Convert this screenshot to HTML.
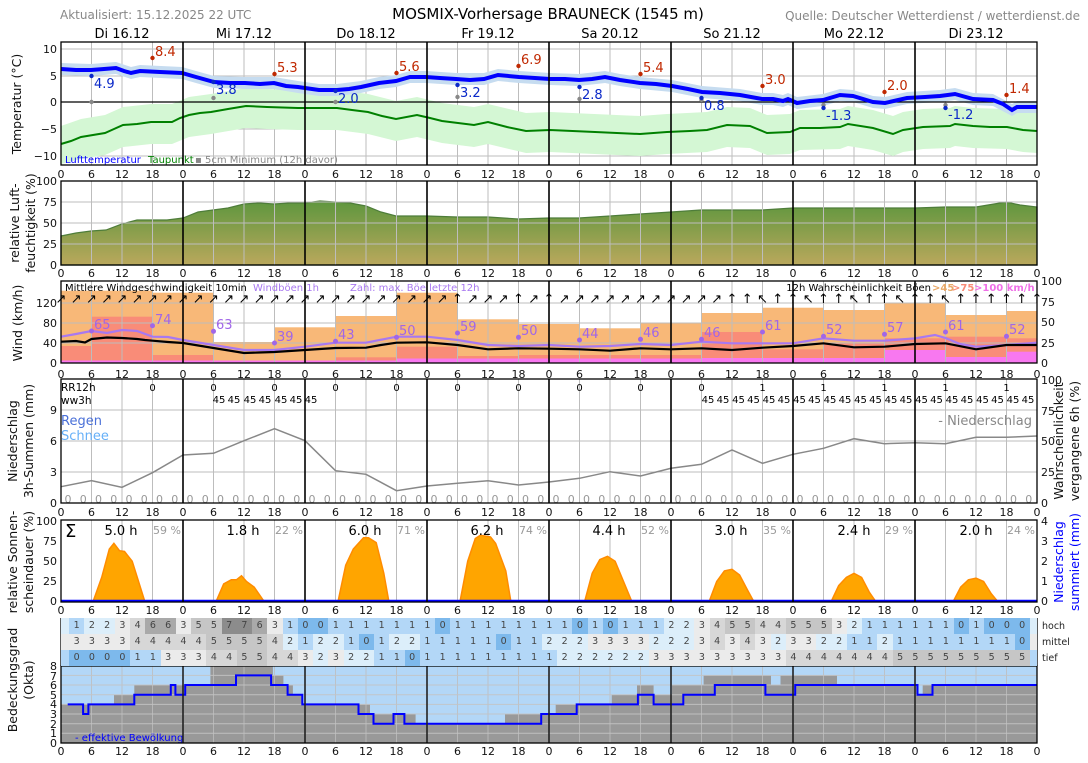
<!DOCTYPE html>
<html><head><meta charset="utf-8"><style>
body{margin:0;background:#fff;width:1088px;height:763px;overflow:hidden;position:relative;font-family:"DejaVu Sans","Liberation Sans",sans-serif}
svg{position:absolute;left:0;top:0}
svg text{font-family:"DejaVu Sans","Liberation Sans",sans-serif}
.tk{font-size:11px;fill:#111;text-anchor:middle}
.yl{font-size:11px;fill:#111;text-anchor:end}
.yr{font-size:11px;fill:#111;text-anchor:start}
.al{font-size:12.5px;fill:#111;text-anchor:middle}
.row{position:absolute;left:61px;width:968px;height:16px;padding-left:8px;display:flex;font-size:9.5px;line-height:16px;color:#444;background:#dceefa}
.row i{font-style:normal;display:block;width:15.25px;flex:none;text-align:center}
.c0{background:#7db9ec}.c1{background:#b3d7f7}.c2{background:#dceefa}.c3{background:#ebebeb}.c4{background:#d7d7d7}.c5{background:#c6c6c6}.c6{background:#a9a9a9}.c7{background:#8c8c8c}
</style></head><body>
<svg width="1088" height="763" viewBox="0 0 1088 763">
<defs>
<pattern id="vg" x="60.5" y="0" width="30.5" height="800" patternUnits="userSpaceOnUse"><line x1="0.5" y1="0" x2="0.5" y2="800" stroke="#bdbdbd" stroke-width="1"/></pattern>
<linearGradient id="hg" x1="0" y1="0" x2="0" y2="1"><stop offset="0" stop-color="#5e963e"/><stop offset="1" stop-color="#baa85c"/></linearGradient>
</defs>
<text x="60" y="19" font-size="12" fill="#888">Aktualisiert: 15.12.2025 22 UTC</text>
<text x="548" y="19" font-size="15" fill="#000" text-anchor="middle">MOSMIX-Vorhersage BRAUNECK (1545 m)</text>
<text x="1080" y="20" font-size="12" fill="#888" text-anchor="end">Quelle: Deutscher Wetterdienst / wetterdienst.de</text>
<g font-size="13" text-anchor="middle" fill="#000">
<text x="122" y="38">Di 16.12</text><text x="244" y="38">Mi 17.12</text><text x="366" y="38">Do 18.12</text><text x="488" y="38">Fr 19.12</text><text x="610" y="38">Sa 20.12</text><text x="732" y="38">So 21.12</text><text x="854" y="38">Mo 22.12</text><text x="976" y="38">Di 23.12</text>
</g>

<rect x="61" y="42" width="976" height="123" fill="url(#vg)"/>
<g stroke="#bdbdbd" stroke-width="1"><line x1="61" y1="49" x2="1037" y2="49"/><line x1="61" y1="76" x2="1037" y2="76"/><line x1="61" y1="129" x2="1037" y2="129"/><line x1="61" y1="156" x2="1037" y2="156"/></g>
<polygon fill="#d4f7d4" points="61,126 81,119 105,115 123,107 151,104 172,104 189,97 211,94 246,88 267,89 298,90 337,90 368,94 396,101 417,97 442,103 474,107 488,104 526,113 550,112 640,116 667,114 707,112 727,107 750,108 767,115 790,114 800,110 840,109 848,106 873,110 893,116 903,112 923,109 950,108 955,106 973,108 1007,109 1023,112 1037,113 1037,153 1023,152 1007,149 973,148 955,146 950,148 923,149 903,152 893,156 873,150 848,146 840,149 800,150 790,154 767,155 750,148 727,147 707,152 667,154 640,156 550,152 526,153 488,144 474,147 442,143 417,137 396,141 368,134 337,130 298,130 267,129 246,128 211,134 189,137 172,144 151,144 123,147 105,155 81,159 61,164"/>
<polygon fill="#c6dcf0" points="61,63 91,64 116,62 131,67 140,65 182,67 196,71 214,76 245,77 274,77 298,81 319,84 337,84 361,81 379,77 396,75 410,71 426,71 456,73 484,73 498,69 519,71 550,73 579,74 605,71 620,74 640,77 672,80 702,86 740,89 762,93 773,93 783,95 788,93 797,97 823,94 840,89 853,90 873,96 885,97 907,92 940,90 955,88 973,93 993,94 1012,104 1017,101 1037,101 1037,113 1017,113 1012,116 993,106 973,105 955,100 940,102 907,104 885,109 873,108 853,102 840,101 823,106 797,109 788,105 783,107 773,105 762,105 740,101 702,98 672,92 640,89 620,86 605,83 579,86 550,85 519,83 498,81 484,85 456,85 426,83 410,83 396,87 379,89 361,93 337,96 319,96 298,93 274,89 245,89 214,88 196,83 182,79 140,77 131,79 116,74 91,76 61,75"/>
<line x1="61" y1="102" x2="1037" y2="102" stroke="#000" stroke-width="1.3"/>
<polyline fill="none" stroke="#008000" stroke-width="2" points="61,144 71,141 81,137 93,135 105,133 114,129 123,125 137,124 151,122 172,122 180,118 189,115 200,113 211,112 228,109 246,106 267,107 298,108 337,108 352,110 368,112 382,116 396,119 417,115 430,118 442,121 458,123 474,125 488,122 507,127 526,131 550,130 595,132 640,134 667,132 690,131 707,130 727,125 750,126 767,133 790,132 800,128 820,128 840,127 848,124 873,128 893,134 903,130 923,127 950,126 955,124 973,126 990,127 1007,127 1023,130 1037,131"/>
<polyline fill="none" stroke="#0000ff" stroke-width="4" points="61,69 76,70 91,70 104,69 116,68 124,71 131,73 140,71 160,72 182,73 196,77 214,82 230,83 245,83 260,84 274,83 286,86 298,87 319,90 337,90 349,89 361,87 379,83 396,81 410,77 426,77 440,78 456,79 470,80 484,79 498,75 519,77 535,78 550,79 565,79 579,80 592,79 605,77 620,80 640,83 656,84 672,86 688,89 702,92 720,93 740,95 762,99 773,99 783,101 788,99 797,103 810,101 823,100 840,95 853,96 873,102 885,103 907,98 925,97 940,96 955,94 973,99 993,100 1003,104 1012,110 1017,107 1037,107"/>
<g fill="#888"><circle cx="91.5" cy="102" r="2.2"/><circle cx="213.5" cy="98" r="2.2"/><circle cx="335.5" cy="102" r="2.2"/><circle cx="457.5" cy="97" r="2.2"/><circle cx="579.5" cy="99" r="2.2"/><circle cx="701.5" cy="100" r="2.2"/><circle cx="823.5" cy="105" r="2.2"/><circle cx="945.5" cy="105" r="2.2"/></g>
<g fill="#0a28c8"><circle cx="91.5" cy="76" r="2.2"/><circle cx="213.5" cy="82" r="2.2"/><circle cx="335.5" cy="91" r="2.2"/><circle cx="457.5" cy="85" r="2.2"/><circle cx="579.5" cy="87" r="2.2"/><circle cx="701.5" cy="98" r="2.2"/><circle cx="823.5" cy="108" r="2.2"/><circle cx="945.5" cy="108" r="2.2"/></g>
<g fill="#0a28c8" font-size="13"><text x="94" y="88">4.9</text><text x="216" y="94">3.8</text><text x="338" y="103">2.0</text><text x="460" y="97">3.2</text><text x="582" y="99">2.8</text><text x="704" y="110">0.8</text><text x="826" y="120">-1.3</text><text x="948" y="119">-1.2</text></g>
<g fill="#c02800"><circle cx="152.5" cy="58" r="2.2"/><circle cx="274.5" cy="74" r="2.2"/><circle cx="396.5" cy="73" r="2.2"/><circle cx="518.5" cy="66" r="2.2"/><circle cx="640.5" cy="74" r="2.2"/><circle cx="762.5" cy="86" r="2.2"/><circle cx="884.5" cy="92" r="2.2"/><circle cx="1006.5" cy="95" r="2.2"/></g>
<g fill="#c02800" font-size="13"><text x="155" y="56">8.4</text><text x="277" y="72">5.3</text><text x="399" y="71">5.6</text><text x="521" y="64">6.9</text><text x="643" y="72">5.4</text><text x="765" y="84">3.0</text><text x="887" y="90">2.0</text><text x="1009" y="93">1.4</text></g>
<text x="65" y="163" font-size="10" fill="#0000ff">Lufttemperatur</text>
<text x="148" y="163" font-size="10" fill="#008000">Taupunkt</text>
<text x="195" y="163" font-size="10" fill="#888">▪ 5cm Minimum (12h davor)</text>
<g stroke="#000" stroke-width="1.6"><line x1="183" y1="42" x2="183" y2="165"/><line x1="305" y1="42" x2="305" y2="165"/><line x1="427" y1="42" x2="427" y2="165"/><line x1="549" y1="42" x2="549" y2="165"/><line x1="671" y1="42" x2="671" y2="165"/><line x1="793" y1="42" x2="793" y2="165"/><line x1="915" y1="42" x2="915" y2="165"/></g>
<rect x="61" y="42" width="976" height="123" fill="none" stroke="#000" stroke-width="1.3"/>
<text class="yl" x="57" y="53">10</text><text class="yl" x="57" y="80">5</text><text class="yl" x="57" y="106">0</text><text class="yl" x="57" y="133">−5</text><text class="yl" x="57" y="160">−10</text>
<text class="al" transform="translate(21,104) rotate(-90)">Temperatur (°C)</text>
<text class="tk" y="178"><tspan x="61">0</tspan><tspan x="91.5">6</tspan><tspan x="122">12</tspan><tspan x="152.5">18</tspan><tspan x="183">0</tspan><tspan x="213.5">6</tspan><tspan x="244">12</tspan><tspan x="274.5">18</tspan><tspan x="305">0</tspan><tspan x="335.5">6</tspan><tspan x="366">12</tspan><tspan x="396.5">18</tspan><tspan x="427">0</tspan><tspan x="457.5">6</tspan><tspan x="488">12</tspan><tspan x="518.5">18</tspan><tspan x="549">0</tspan><tspan x="579.5">6</tspan><tspan x="610">12</tspan><tspan x="640.5">18</tspan><tspan x="671">0</tspan><tspan x="701.5">6</tspan><tspan x="732">12</tspan><tspan x="762.5">18</tspan><tspan x="793">0</tspan><tspan x="823.5">6</tspan><tspan x="854">12</tspan><tspan x="884.5">18</tspan><tspan x="915">0</tspan><tspan x="945.5">6</tspan><tspan x="976">12</tspan><tspan x="1006.5">18</tspan><tspan x="1037">0</tspan></text>

<polygon fill="url(#hg)" stroke="#4e7d3a" stroke-width="1.2" points="61,236 76,233 91,231 106,230 122,224 137,220 152,220 167,220 183,218 198,212 213,210 228,208 244,204 259,203 274,204 290,203 305,203 320,201 335,202 350,203 366,206 381,212 396,216 427,216 457,217 488,217 518,219 549,218 579,218 610,216 640,214 671,212 701,210 732,210 762,210 793,208 823,208 854,208 884,208 915,208 945,207 976,207 1006,202 1020,205 1037,207 1037,265 61,265"/>
<rect x="61" y="181" width="976" height="84" fill="url(#vg)"/>
<g stroke="#bdbdbd"><line x1="61" y1="202" x2="1037" y2="202"/><line x1="61" y1="223" x2="1037" y2="223"/><line x1="61" y1="244" x2="1037" y2="244"/></g>
<g stroke="#000" stroke-width="1.6"><line x1="183" y1="181" x2="183" y2="265"/><line x1="305" y1="181" x2="305" y2="265"/><line x1="427" y1="181" x2="427" y2="265"/><line x1="549" y1="181" x2="549" y2="265"/><line x1="671" y1="181" x2="671" y2="265"/><line x1="793" y1="181" x2="793" y2="265"/><line x1="915" y1="181" x2="915" y2="265"/></g>
<rect x="61" y="181" width="976" height="84" fill="none" stroke="#000" stroke-width="1.3"/>
<text class="yl" x="57" y="185">100</text><text class="yl" x="57" y="206">75</text><text class="yl" x="57" y="227">50</text><text class="yl" x="57" y="248">25</text><text class="yl" x="57" y="269">0</text>
<text class="al" transform="translate(19,223) rotate(-90)">relative Luft-</text>
<text class="al" transform="translate(35,223) rotate(-90)">feuchtigkeit (%)</text>
<text class="tk" y="277"><tspan x="61">0</tspan><tspan x="91.5">6</tspan><tspan x="122">12</tspan><tspan x="152.5">18</tspan><tspan x="183">0</tspan><tspan x="213.5">6</tspan><tspan x="244">12</tspan><tspan x="274.5">18</tspan><tspan x="305">0</tspan><tspan x="335.5">6</tspan><tspan x="366">12</tspan><tspan x="396.5">18</tspan><tspan x="427">0</tspan><tspan x="457.5">6</tspan><tspan x="488">12</tspan><tspan x="518.5">18</tspan><tspan x="549">0</tspan><tspan x="579.5">6</tspan><tspan x="610">12</tspan><tspan x="640.5">18</tspan><tspan x="671">0</tspan><tspan x="701.5">6</tspan><tspan x="732">12</tspan><tspan x="762.5">18</tspan><tspan x="793">0</tspan><tspan x="823.5">6</tspan><tspan x="854">12</tspan><tspan x="884.5">18</tspan><tspan x="915">0</tspan><tspan x="945.5">6</tspan><tspan x="976">12</tspan><tspan x="1006.5">18</tspan><tspan x="1037">0</tspan></text>

<g fill="#f8b878">
<rect x="61" y="290.7" width="91.5" height="72.3"/><rect x="152.5" y="292.7" width="61" height="70.3"/><rect x="213.5" y="342" width="61" height="21"/><rect x="274.5" y="327.3" width="61" height="35.7"/><rect x="335.5" y="316" width="61" height="47"/><rect x="396.5" y="292.7" width="61" height="70.3"/><rect x="457.5" y="319.3" width="61" height="43.7"/><rect x="518.5" y="324" width="61" height="39"/><rect x="579.5" y="328.3" width="61" height="34.7"/><rect x="640.5" y="323.3" width="61" height="39.7"/><rect x="701.5" y="313" width="61" height="50"/><rect x="762.5" y="307.7" width="61" height="55.3"/><rect x="823.5" y="310" width="61" height="53"/><rect x="884.5" y="302.7" width="61" height="60.3"/><rect x="945.5" y="315" width="61" height="48"/><rect x="1006.5" y="311" width="30.5" height="52"/>
</g>
<g fill="#f98c78">
<rect x="61" y="346" width="30.5" height="17"/><rect x="91.5" y="316.7" width="61" height="46.3"/><rect x="152.5" y="355" width="61" height="8"/><rect x="213.5" y="360.5" width="122" height="2.5"/><rect x="335.5" y="357.3" width="61" height="5.7"/><rect x="396.5" y="346.7" width="61" height="16.3"/><rect x="457.5" y="356" width="61" height="7"/><rect x="518.5" y="355" width="183" height="8"/><rect x="701.5" y="332" width="61" height="31"/><rect x="762.5" y="349.3" width="61" height="13.7"/><rect x="823.5" y="342.7" width="61" height="20.3"/><rect x="884.5" y="338.3" width="61" height="24.7"/><rect x="945.5" y="336.7" width="61" height="26.3"/><rect x="1006.5" y="338.3" width="30.5" height="24.7"/>
</g>
<g fill="#f878f0">
<rect x="61" y="360.5" width="335.5" height="2.5"/><rect x="396.5" y="358.5" width="305" height="4.5"/><rect x="701.5" y="358" width="183" height="5"/><rect x="884.5" y="350" width="61" height="13"/><rect x="945.5" y="357" width="61" height="6"/><rect x="1006.5" y="351.7" width="30.5" height="11.3"/>
</g>
<rect x="61" y="281" width="976" height="82" fill="url(#vg)"/>
<g stroke="#bdbdbd"><line x1="61" y1="303" x2="1037" y2="303"/><line x1="61" y1="323" x2="1037" y2="323"/><line x1="61" y1="343" x2="1037" y2="343"/></g>
<polyline fill="none" stroke="#a878f0" stroke-width="2.2" points="61,336.7 76,334 91.5,331 107,333 122,330 137,331 152.5,336.7 168,337 183,340 213.5,345 244,350 274.5,350 305,346.7 335.5,342.7 366,342.7 396.5,336.7 427,336.7 457.5,340 488,345 518.5,346 549,345 579.5,346.7 610,346 640.5,344 671,345 701.5,341.7 732,343.3 762.5,343.3 793,343.3 823.5,338.3 854,340.7 884.5,340.7 915,338.3 935,335 945.5,338 960,344 976,346.7 1006.5,345 1037,342.7"/>
<polyline fill="none" stroke="#000" stroke-width="2.2" points="61,341.7 76,341 85,342.5 91.5,339 107,337.5 122,338 137,339 145,340 152.5,340.7 168,342 183,343 213.5,348 244,353 259,352.5 274.5,352 305,350 320,349 335.5,348 366,347.7 381,345 396.5,342.7 427,342.3 457.5,345 488,349.3 518.5,348.3 549,348.7 579.5,349.3 610,350.7 640.5,348.3 671,349.3 701.5,348.3 732,350 762.5,347.7 793,346 823.5,343.3 854,347.3 884.5,346.7 915,344 945.5,343.3 976,349.3 1006.5,345 1037,345"/>
<g fill="#a066e8"><circle cx="91.5" cy="331" r="2.5"/><circle cx="152.5" cy="325.7" r="2.5"/><circle cx="213.5" cy="331.3" r="2.5"/><circle cx="274.5" cy="343" r="2.5"/><circle cx="335.5" cy="341.3" r="2.5"/><circle cx="396.5" cy="337.3" r="2.5"/><circle cx="457.5" cy="333" r="2.5"/><circle cx="518.5" cy="337.3" r="2.5"/><circle cx="579.5" cy="340" r="2.5"/><circle cx="640.5" cy="339.3" r="2.5"/><circle cx="701.5" cy="339.3" r="2.5"/><circle cx="762.5" cy="332" r="2.5"/><circle cx="823.5" cy="336.3" r="2.5"/><circle cx="884.5" cy="334.3" r="2.5"/><circle cx="945.5" cy="332" r="2.5"/><circle cx="1006.5" cy="336.3" r="2.5"/></g>
<g fill="#a066e8" font-size="13"><text x="94" y="329">65</text><text x="155" y="324">74</text><text x="216" y="329">63</text><text x="277" y="341">39</text><text x="338" y="339">43</text><text x="399" y="335">50</text><text x="460" y="331">59</text><text x="521" y="335">50</text><text x="582" y="338">44</text><text x="643" y="337">46</text><text x="704" y="337">46</text><text x="765" y="330">61</text><text x="826" y="334">52</text><text x="887" y="332">57</text><text x="948" y="330">61</text><text x="1009" y="334">52</text></g>
<text font-size="13" fill="#000" text-anchor="middle" y="303" x="61 76.25 91.5 106.75 122 137.25 152.5 167.75 183 198.25 213.5 228.75 244 259.25 274.5 289.75 305 320.25 335.5 350.75 366 381.25 396.5 411.75 427 442.25 457.5 472.75 488 503.25 518.5 533.75 549 564.25 579.5 594.75 610 625.25 640.5 655.75 671 686.25 701.5 716.75 732 747.25 762.5 777.75 793 808.25 823.5 838.75 854 869.25 884.5 899.75 915 930.25 945.5 960.75 976 991.25 1006.5 1021.75 1037">↗↗↗↗↗↗↗↗↗↗↗↗↗↗↗↗↗↗↗↗↗↗↗↗↗↗↑↗↗↗↑↗↑↗↗↗↗↗↗↗↗↗↗↗↑↑↖↑↑↖↑↑↖↑↑↖↑↑↖↑↑↑↑↑↑</text>
<g font-size="10"><text x="65" y="291" fill="#000">Mittlere Windgeschwindigkeit 10min</text><text x="253" y="291" fill="#a878f0">Windböen 1h</text><text x="350" y="291" fill="#a878f0">Zahl: max. Böe letzte 12h</text>
<text x="931" y="291" fill="#000" text-anchor="end">12h Wahrscheinlichkeit Böen</text><text x="932" y="291" fill="#e8a868" font-weight="bold">&gt;45</text><text x="952" y="291" fill="#f98c78" font-weight="bold">&gt;75</text><text x="974" y="291" fill="#f070e8" font-weight="bold">&gt;100 km/h</text></g>
<g stroke="#000" stroke-width="1.6"><line x1="183" y1="281" x2="183" y2="363"/><line x1="305" y1="281" x2="305" y2="363"/><line x1="427" y1="281" x2="427" y2="363"/><line x1="549" y1="281" x2="549" y2="363"/><line x1="671" y1="281" x2="671" y2="363"/><line x1="793" y1="281" x2="793" y2="363"/><line x1="915" y1="281" x2="915" y2="363"/></g>
<rect x="61" y="281" width="976" height="82" fill="none" stroke="#000" stroke-width="1.3"/>
<text class="yl" x="57" y="307">120</text><text class="yl" x="57" y="327">80</text><text class="yl" x="57" y="347">40</text><text class="yl" x="57" y="367">0</text>
<text class="yr" x="1041" y="285">100</text><text class="yr" x="1041" y="306">75</text><text class="yr" x="1041" y="326">50</text><text class="yr" x="1041" y="347">25</text><text class="yr" x="1041" y="367">0</text>
<text class="al" transform="translate(22,323) rotate(-90)">Wind (km/h)</text>
<text class="tk" y="378"><tspan x="61">0</tspan><tspan x="91.5">6</tspan><tspan x="122">12</tspan><tspan x="152.5">18</tspan><tspan x="183">0</tspan><tspan x="213.5">6</tspan><tspan x="244">12</tspan><tspan x="274.5">18</tspan><tspan x="305">0</tspan><tspan x="335.5">6</tspan><tspan x="366">12</tspan><tspan x="396.5">18</tspan><tspan x="427">0</tspan><tspan x="457.5">6</tspan><tspan x="488">12</tspan><tspan x="518.5">18</tspan><tspan x="549">0</tspan><tspan x="579.5">6</tspan><tspan x="610">12</tspan><tspan x="640.5">18</tspan><tspan x="671">0</tspan><tspan x="701.5">6</tspan><tspan x="732">12</tspan><tspan x="762.5">18</tspan><tspan x="793">0</tspan><tspan x="823.5">6</tspan><tspan x="854">12</tspan><tspan x="884.5">18</tspan><tspan x="915">0</tspan><tspan x="945.5">6</tspan><tspan x="976">12</tspan><tspan x="1006.5">18</tspan><tspan x="1037">0</tspan></text>

<rect x="61" y="379" width="976" height="124" fill="url(#vg)"/>
<g stroke="#bdbdbd"><line x1="61" y1="410" x2="1037" y2="410"/><line x1="61" y1="441" x2="1037" y2="441"/><line x1="61" y1="472" x2="1037" y2="472"/></g>
<polyline fill="none" stroke="#888" stroke-width="1.5" points="61,486.7 91.5,480.7 122,487.3 152.5,472.7 183,455 213.5,453.3 244,440.7 274.5,428.7 305,440.7 335.5,470.7 366,474.3 396.5,490.7 427,486 457.5,483.3 488,480.7 518.5,485 549,482 579.5,478.3 610,471.7 640.5,476 671,468.3 701.5,464.3 732,450 762.5,463.3 793,454.3 823.5,448.3 854,438.7 884.5,443.7 915,442.7 945.5,443.7 976,437.3 1006.5,437.3 1037,436"/>
<text x="61" y="391" font-size="10.5" fill="#000">RR12h</text><text x="61" y="404" font-size="10.5" fill="#000">ww3h</text>
<g font-size="10" fill="#000" text-anchor="middle"><text x="152.5" y="391">0</text><text x="213.5" y="391">0</text><text x="274.5" y="391">0</text><text x="335.5" y="391">0</text><text x="396.5" y="391">0</text><text x="457.5" y="391">0</text><text x="518.5" y="391">0</text><text x="579.5" y="391">0</text><text x="640.5" y="391">0</text><text x="701.5" y="391">0</text><text x="762.5" y="391">1</text><text x="823.5" y="391">1</text><text x="884.5" y="391">1</text><text x="945.5" y="391">1</text><text x="1006.5" y="391">1</text></g>
<text font-size="10" fill="#000" text-anchor="middle" y="403"><tspan x="219">45</tspan><tspan x="234">45</tspan><tspan x="250">45</tspan><tspan x="265">45</tspan><tspan x="281">45</tspan><tspan x="296">45</tspan><tspan x="311">45</tspan><tspan x="708">45</tspan><tspan x="723">45</tspan><tspan x="738.5">45</tspan><tspan x="753.5">45</tspan><tspan x="769">45</tspan><tspan x="784">45</tspan><tspan x="799.5">45</tspan><tspan x="814.5">45</tspan><tspan x="830">45</tspan><tspan x="845">45</tspan><tspan x="860.5">45</tspan><tspan x="875.5">45</tspan><tspan x="891">45</tspan><tspan x="906">45</tspan><tspan x="921.5">45</tspan><tspan x="936.5">45</tspan><tspan x="952">45</tspan><tspan x="967">45</tspan><tspan x="982.5">45</tspan><tspan x="997.5">45</tspan><tspan x="1013">45</tspan><tspan x="1028">45</tspan></text>
<text x="61" y="425" font-size="13" fill="#4a70d8">Regen</text>
<text x="61" y="440" font-size="13" fill="#66b0f8">Schnee</text>
<text x="1032" y="425" font-size="13" fill="#888" text-anchor="end">- Niederschlag</text>
<text font-size="11" fill="#999" text-anchor="middle" y="503" x="68 83.25 98.5 113.75 129 144.25 159.5 174.75 190 205.25 220.5 235.75 251 266.25 281.5 296.75 312 327.25 342.5 357.75 373 388.25 403.5 418.75 434 449.25 464.5 479.75 495 510.25 525.5 540.75 556 571.25 586.5 601.75 617 632.25 647.5 662.75 678 693.25 708.5 723.75 739 754.25 769.5 784.75 800 815.25 830.5 845.75 861 876.25 891.5 906.75 922 937.25 952.5 967.75 983 998.25 1013.5 1028.75">0000000000000000000000000000000000000000000000000000000000000000</text>
<g stroke="#000" stroke-width="1.6"><line x1="183" y1="379" x2="183" y2="503"/><line x1="305" y1="379" x2="305" y2="503"/><line x1="427" y1="379" x2="427" y2="503"/><line x1="549" y1="379" x2="549" y2="503"/><line x1="671" y1="379" x2="671" y2="503"/><line x1="793" y1="379" x2="793" y2="503"/><line x1="915" y1="379" x2="915" y2="503"/></g>
<rect x="61" y="379" width="976" height="124" fill="none" stroke="#000" stroke-width="1.3"/>
<text class="yl" x="57" y="414">9</text><text class="yl" x="57" y="445">6</text><text class="yl" x="57" y="476">3</text><text class="yl" x="57" y="507">0</text>
<text class="yr" x="1041" y="384">100</text><text class="yr" x="1041" y="415">75</text><text class="yr" x="1041" y="445">50</text><text class="yr" x="1041" y="476">25</text><text class="yr" x="1041" y="507">0</text>
<text class="al" transform="translate(17,441) rotate(-90)">Niederschlag</text>
<text class="al" transform="translate(33,441) rotate(-90)">3h-Summen (mm)</text>
<text class="al" transform="translate(1063,441) rotate(-90)">Wahrscheinlichkeit</text>
<text class="al" transform="translate(1079,441) rotate(-90)">vergangene 6h (%)</text>
<text class="tk" y="516"><tspan x="61">0</tspan><tspan x="91.5">6</tspan><tspan x="122">12</tspan><tspan x="152.5">18</tspan><tspan x="183">0</tspan><tspan x="213.5">6</tspan><tspan x="244">12</tspan><tspan x="274.5">18</tspan><tspan x="305">0</tspan><tspan x="335.5">6</tspan><tspan x="366">12</tspan><tspan x="396.5">18</tspan><tspan x="427">0</tspan><tspan x="457.5">6</tspan><tspan x="488">12</tspan><tspan x="518.5">18</tspan><tspan x="549">0</tspan><tspan x="579.5">6</tspan><tspan x="610">12</tspan><tspan x="640.5">18</tspan><tspan x="671">0</tspan><tspan x="701.5">6</tspan><tspan x="732">12</tspan><tspan x="762.5">18</tspan><tspan x="793">0</tspan><tspan x="823.5">6</tspan><tspan x="854">12</tspan><tspan x="884.5">18</tspan><tspan x="915">0</tspan><tspan x="945.5">6</tspan><tspan x="976">12</tspan><tspan x="1006.5">18</tspan><tspan x="1037">0</tspan></text>

<rect x="61" y="520" width="976" height="82" fill="url(#vg)"/>
<g fill="#ffa500" stroke="#ff8c00" stroke-width="1.5">
<polygon points="93,601.7 101.7,577.4 109.3,549.1 113.9,543.4 119.5,550.7 124.5,551.5 132.2,561.2 139.8,585.5 144.9,601.7"/>
<polygon points="216,601.7 223.7,583.9 231.3,579.8 236.4,579.8 241.5,575.8 246.5,581.5 254.2,587.1 264.3,601.7"/>
<polygon points="338,601.7 345.7,565.2 353.3,549.1 363.5,537.7 368.5,537.7 376.2,542.6 383.8,573.3 388.9,601.7"/>
<polygon points="460,601.7 467.7,561.2 475.3,538.5 480.4,535.3 490.5,536.9 495.6,543.4 505.8,570.9 510.9,601.7"/>
<polygon points="584.6,601.7 592.2,573.3 599.8,559.6 607.5,556.3 615.1,561.2 625.2,585.5 631.9,601.7"/>
<polygon points="709.1,601.7 716.7,581.5 724.4,570.9 732,569.3 739.6,575 747.2,589.5 753.9,601.7"/>
<polygon points="831.1,601.7 838.7,585.5 846.4,577.4 854,573.3 861.6,577.4 869.2,592 875.9,601.7"/>
<polygon points="953.1,601.7 960.7,587.1 968.4,579.8 976,578.2 983.6,581.5 991.2,593.6 997.9,601.7"/>
</g>
<line x1="61" y1="601" x2="1037" y2="601" stroke="#0000ff" stroke-width="2.5"/>
<text x="65" y="537" font-size="18" fill="#000">Σ</text>
<g font-size="13" fill="#000" text-anchor="middle"><text x="121" y="535">5.0 h</text><text x="243" y="535">1.8 h</text><text x="365" y="535">6.0 h</text><text x="487" y="535">6.2 h</text><text x="609" y="535">4.4 h</text><text x="731" y="535">3.0 h</text><text x="854" y="535">2.4 h</text><text x="976" y="535">2.0 h</text></g>
<g font-size="11" fill="#999" text-anchor="middle"><text x="167" y="534">59 %</text><text x="289" y="534">22 %</text><text x="411" y="534">71 %</text><text x="533" y="534">74 %</text><text x="655" y="534">52 %</text><text x="777" y="534">35 %</text><text x="899" y="534">29 %</text><text x="1021" y="534">24 %</text></g>
<g stroke="#000" stroke-width="1.6"><line x1="183" y1="520" x2="183" y2="602"/><line x1="305" y1="520" x2="305" y2="602"/><line x1="427" y1="520" x2="427" y2="602"/><line x1="549" y1="520" x2="549" y2="602"/><line x1="671" y1="520" x2="671" y2="602"/><line x1="793" y1="520" x2="793" y2="602"/><line x1="915" y1="520" x2="915" y2="602"/></g>
<rect x="61" y="520" width="976" height="82" fill="none" stroke="#000" stroke-width="1.3"/>
<text class="yl" x="57" y="525">100</text><text class="yl" x="57" y="545">75</text><text class="yl" x="57" y="565">50</text><text class="yl" x="57" y="585">25</text><text class="yl" x="57" y="605">0</text>
<text class="yr" x="1041" y="525">4</text><text class="yr" x="1041" y="545">3</text><text class="yr" x="1041" y="565">2</text><text class="yr" x="1041" y="585">1</text><text class="yr" x="1041" y="605">0</text>
<text class="al" transform="translate(17,562) rotate(-90)">relative Sonnen-</text>
<text class="al" transform="translate(33,562) rotate(-90)">scheindauer (%)</text>
<text class="al" style="fill:#0000ff" transform="translate(1063,562) rotate(-90)">Niederschlag</text>
<text class="al" style="fill:#0000ff" transform="translate(1079,562) rotate(-90)">summiert (mm)</text>
<text class="tk" y="614"><tspan x="61">0</tspan><tspan x="91.5">6</tspan><tspan x="122">12</tspan><tspan x="152.5">18</tspan><tspan x="183">0</tspan><tspan x="213.5">6</tspan><tspan x="244">12</tspan><tspan x="274.5">18</tspan><tspan x="305">0</tspan><tspan x="335.5">6</tspan><tspan x="366">12</tspan><tspan x="396.5">18</tspan><tspan x="427">0</tspan><tspan x="457.5">6</tspan><tspan x="488">12</tspan><tspan x="518.5">18</tspan><tspan x="549">0</tspan><tspan x="579.5">6</tspan><tspan x="610">12</tspan><tspan x="640.5">18</tspan><tspan x="671">0</tspan><tspan x="701.5">6</tspan><tspan x="732">12</tspan><tspan x="762.5">18</tspan><tspan x="793">0</tspan><tspan x="823.5">6</tspan><tspan x="854">12</tspan><tspan x="884.5">18</tspan><tspan x="915">0</tspan><tspan x="945.5">6</tspan><tspan x="976">12</tspan><tspan x="1006.5">18</tspan><tspan x="1037">0</tspan></text>

<rect x="61" y="666" width="976" height="77" fill="#b3d7f7"/>
<path fill="#999" d="M61,743 L61,704.4 H114 V694.7 H134.3 V685 H210.4 V665.7 H272.9 V675.4 H283.4 V685 H292.9 V694.7 H302.3 V704.4 H370 V714 H415.6 V723.7 H505 V714 H555.7 V704.4 H611.7 V694.7 H637 V685 H653.6 V694.7 H672 V685 H703.6 V675.4 H771 V685 H780.5 V675.4 H837 V685 H917.5 V694.7 H922.7 V685 H1037 V743 Z"/>
<rect x="61" y="666" width="976" height="77" fill="url(#vg)" opacity="0.8"/>
<g stroke="#c4c4c4" stroke-width="1" opacity="0.9"><line x1="61" y1="675.4" x2="1037" y2="675.4"/><line x1="61" y1="685" x2="1037" y2="685"/><line x1="61" y1="694.7" x2="1037" y2="694.7"/><line x1="61" y1="704.4" x2="1037" y2="704.4"/><line x1="61" y1="714" x2="1037" y2="714"/><line x1="61" y1="723.7" x2="1037" y2="723.7"/><line x1="61" y1="733.3" x2="1037" y2="733.3"/></g>
<path fill="none" stroke="#0000ff" stroke-width="2" d="M67.7,704.4 H83.1 V714 H88.4 V704.4 H134.3 V694.7 H170.8 V685 H175.4 V694.7 H185.2 V685 H236 V675.4 H271.1 V685 H287.6 V694.7 H302.3 V704.4 H358.5 V714 H373.5 V723.7 H393.5 V714 H404.4 V723.7 H541.2 V714 H576.7 V704.4 H637.9 V694.7 H653.6 V704.4 H683.3 V694.7 H714.8 V685 H765.4 V694.7 H795.2 V685 H917.5 V694.7 H932.5 V685 H1037"/>
<text x="75" y="741" font-size="10" fill="#0000ff">- effektive Bewölkung</text>
<g stroke="#222" stroke-width="1.6"><line x1="183" y1="666" x2="183" y2="743"/><line x1="305" y1="666" x2="305" y2="743"/><line x1="427" y1="666" x2="427" y2="743"/><line x1="549" y1="666" x2="549" y2="743"/><line x1="671" y1="666" x2="671" y2="743"/><line x1="793" y1="666" x2="793" y2="743"/><line x1="915" y1="666" x2="915" y2="743"/></g>
<rect x="61" y="666" width="976" height="77" fill="none" stroke="#000" stroke-width="1.3"/>
<line x1="61" y1="618" x2="61" y2="666" stroke="#000" stroke-width="1.3"/><line x1="1037" y1="618" x2="1037" y2="666" stroke="#000" stroke-width="1.3"/>
<g font-size="11" fill="#111" text-anchor="end"><text x="57" y="670">8</text><text x="57" y="680">7</text><text x="57" y="689">6</text><text x="57" y="699">5</text><text x="57" y="708">4</text><text x="57" y="718">3</text><text x="57" y="728">2</text><text x="57" y="737">1</text><text x="57" y="747">0</text></g>
<g font-size="9.5" fill="#222"><text x="1042" y="629">hoch</text><text x="1042" y="645">mittel</text><text x="1042" y="661">tief</text></g>
<text class="al" transform="translate(17,680) rotate(-90)">Bedeckungsgrad</text>
<text class="al" transform="translate(33,680) rotate(-90)">(Okta)</text>
<text class="tk" y="755"><tspan x="61">0</tspan><tspan x="91.5">6</tspan><tspan x="122">12</tspan><tspan x="152.5">18</tspan><tspan x="183">0</tspan><tspan x="213.5">6</tspan><tspan x="244">12</tspan><tspan x="274.5">18</tspan><tspan x="305">0</tspan><tspan x="335.5">6</tspan><tspan x="366">12</tspan><tspan x="396.5">18</tspan><tspan x="427">0</tspan><tspan x="457.5">6</tspan><tspan x="488">12</tspan><tspan x="518.5">18</tspan><tspan x="549">0</tspan><tspan x="579.5">6</tspan><tspan x="610">12</tspan><tspan x="640.5">18</tspan><tspan x="671">0</tspan><tspan x="701.5">6</tspan><tspan x="732">12</tspan><tspan x="762.5">18</tspan><tspan x="793">0</tspan><tspan x="823.5">6</tspan><tspan x="854">12</tspan><tspan x="884.5">18</tspan><tspan x="915">0</tspan><tspan x="945.5">6</tspan><tspan x="976">12</tspan><tspan x="1006.5">18</tspan><tspan x="1037">0</tspan></text>
</svg>

<div class="row" style="top:618px"><i class=c1>1</i><i class=c2>2</i><i class=c2>2</i><i class=c3>3</i><i class=c4>4</i><i class=c6>6</i><i class=c6>6</i><i class=c3>3</i><i class=c5>5</i><i class=c5>5</i><i class=c7>7</i><i class=c7>7</i><i class=c6>6</i><i class=c3>3</i><i class=c1>1</i><i class=c0>0</i><i class=c0>0</i><i class=c1>1</i><i class=c1>1</i><i class=c1>1</i><i class=c1>1</i><i class=c1>1</i><i class=c1>1</i><i class=c1>1</i><i class=c0>0</i><i class=c1>1</i><i class=c1>1</i><i class=c1>1</i><i class=c1>1</i><i class=c1>1</i><i class=c1>1</i><i class=c1>1</i><i class=c1>1</i><i class=c0>0</i><i class=c1>1</i><i class=c0>0</i><i class=c1>1</i><i class=c1>1</i><i class=c1>1</i><i class=c2>2</i><i class=c2>2</i><i class=c3>3</i><i class=c4>4</i><i class=c5>5</i><i class=c5>5</i><i class=c4>4</i><i class=c4>4</i><i class=c5>5</i><i class=c5>5</i><i class=c5>5</i><i class=c3>3</i><i class=c2>2</i><i class=c1>1</i><i class=c1>1</i><i class=c1>1</i><i class=c1>1</i><i class=c1>1</i><i class=c1>1</i><i class=c0>0</i><i class=c1>1</i><i class=c0>0</i><i class=c0>0</i><i class=c0>0</i></div>
<div class="row" style="top:634px;background:#ebebeb"><i class=c3>3</i><i class=c3>3</i><i class=c3>3</i><i class=c3>3</i><i class=c4>4</i><i class=c4>4</i><i class=c4>4</i><i class=c4>4</i><i class=c4>4</i><i class=c5>5</i><i class=c5>5</i><i class=c5>5</i><i class=c5>5</i><i class=c4>4</i><i class=c2>2</i><i class=c1>1</i><i class=c2>2</i><i class=c2>2</i><i class=c1>1</i><i class=c0>0</i><i class=c1>1</i><i class=c2>2</i><i class=c2>2</i><i class=c1>1</i><i class=c1>1</i><i class=c1>1</i><i class=c1>1</i><i class=c1>1</i><i class=c0>0</i><i class=c1>1</i><i class=c1>1</i><i class=c2>2</i><i class=c2>2</i><i class=c2>2</i><i class=c3>3</i><i class=c3>3</i><i class=c3>3</i><i class=c3>3</i><i class=c2>2</i><i class=c2>2</i><i class=c2>2</i><i class=c3>3</i><i class=c4>4</i><i class=c3>3</i><i class=c4>4</i><i class=c3>3</i><i class=c2>2</i><i class=c3>3</i><i class=c3>3</i><i class=c2>2</i><i class=c2>2</i><i class=c1>1</i><i class=c1>1</i><i class=c2>2</i><i class=c1>1</i><i class=c1>1</i><i class=c1>1</i><i class=c1>1</i><i class=c1>1</i><i class=c1>1</i><i class=c1>1</i><i class=c1>1</i><i class=c0>0</i></div>
<div class="row" style="top:650px;background:#b3d7f7"><i class=c0>0</i><i class=c0>0</i><i class=c0>0</i><i class=c0>0</i><i class=c1>1</i><i class=c1>1</i><i class=c3>3</i><i class=c3>3</i><i class=c3>3</i><i class=c4>4</i><i class=c4>4</i><i class=c5>5</i><i class=c5>5</i><i class=c4>4</i><i class=c4>4</i><i class=c3>3</i><i class=c2>2</i><i class=c3>3</i><i class=c2>2</i><i class=c2>2</i><i class=c1>1</i><i class=c1>1</i><i class=c0>0</i><i class=c1>1</i><i class=c1>1</i><i class=c1>1</i><i class=c1>1</i><i class=c1>1</i><i class=c1>1</i><i class=c1>1</i><i class=c1>1</i><i class=c1>1</i><i class=c2>2</i><i class=c2>2</i><i class=c2>2</i><i class=c2>2</i><i class=c2>2</i><i class=c2>2</i><i class=c3>3</i><i class=c3>3</i><i class=c3>3</i><i class=c3>3</i><i class=c3>3</i><i class=c3>3</i><i class=c3>3</i><i class=c3>3</i><i class=c3>3</i><i class=c4>4</i><i class=c4>4</i><i class=c4>4</i><i class=c4>4</i><i class=c4>4</i><i class=c4>4</i><i class=c4>4</i><i class=c5>5</i><i class=c5>5</i><i class=c5>5</i><i class=c5>5</i><i class=c5>5</i><i class=c5>5</i><i class=c5>5</i><i class=c5>5</i><i class=c5>5</i></div>
</body></html>
